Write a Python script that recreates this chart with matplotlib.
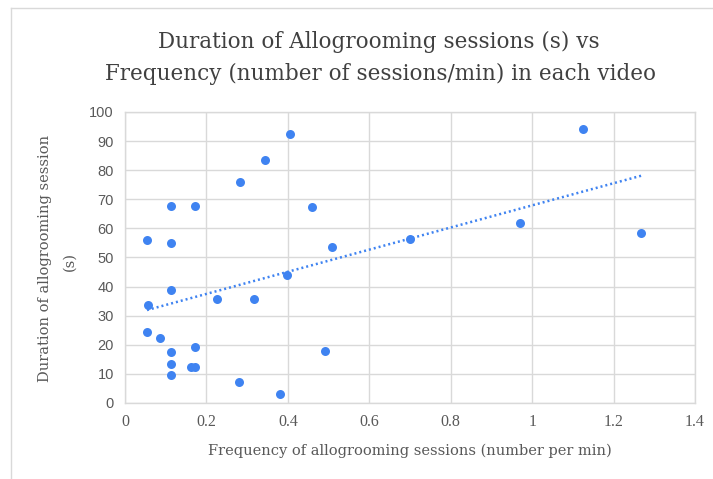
"""
Duration of allogrooming sessions vs frequency of sessions per video.
"""

import numpy as np
import matplotlib
matplotlib.use("Agg")
import matplotlib.pyplot as plt
from matplotlib.lines import Line2D

# frecuencia (sesiones/min) y duración (s) de cada video
frecuencia = [0.405, 0.344, 0.283, 0.112, 0.171, 0.460, 0.054, 0.112, 0.112, 0.397,
              0.057, 0.225, 0.318, 0.054, 0.086, 0.112, 0.171, 0.112, 0.163, 0.171,
              0.112, 0.280, 0.380, 0.509, 0.492, 0.700, 0.970, 1.125, 1.268]
duracion = [92.3, 83.5, 76.1, 67.7, 67.7, 67.4, 55.9, 54.9, 38.7, 43.9,
            33.6, 35.9, 35.9, 24.5, 22.2, 17.6, 19.4, 13.3, 12.4, 12.4,
            9.5, 7.2, 3.2, 53.6, 17.9, 56.4, 61.8, 94.1, 58.5]

x_ticks = [0, 0.2, 0.4, 0.6, 0.8, 1, 1.2, 1.4]
x_labels = ["0", "0.2", "0.4", "0.6", "0.8", "1", "1.2", "1.4"]
y_ticks = list(range(0, 101, 10))

azul = "#3f83f1"
gris_txt = "#595959"
gris_grid = "#d9d9d9"
serif = ["DejaVu Serif"]
serif_tick = ["Liberation Serif", "DejaVu Serif"]
sans = ["Liberation Sans", "DejaVu Sans"]

fig = plt.figure(figsize=(7.13, 4.79), dpi=100)
ax = fig.add_axes([0.1753, 0.1587, 0.7995, 0.6075])

ax.scatter(frecuencia, duracion, s=42, color=azul, zorder=3, linewidths=0)

# línea de tendencia lineal
m, b = np.polyfit(frecuencia, duracion, 1)
xt = np.array([min(frecuencia), max(frecuencia)])
ax.plot(xt, m * xt + b, color=azul, linewidth=1.8, linestyle=(0, (0.8, 1.2)), zorder=2)

ax.set_xlim(0, 1.4)
ax.set_ylim(0, 100)
ax.set_xticks(x_ticks)
ax.set_xticklabels(x_labels, fontfamily=serif_tick, fontsize=11.5, color=gris_txt)
ax.set_yticks(y_ticks)
ax.set_yticklabels([str(v) for v in y_ticks], fontfamily=sans, fontsize=10.5, color=gris_txt)
ax.tick_params(length=0, pad=8)
ax.grid(True, color=gris_grid, linewidth=1)
ax.set_axisbelow(True)
for s in ax.spines.values():
    s.set_color(gris_grid)
    s.set_linewidth(1)

fig.text(0.531, 0.912, "Duration of Allogrooming sessions (s) vs", ha="center", va="center",
         fontfamily=serif, fontsize=15.5, color="#404040")
fig.text(0.533, 0.845, "Frequency (number of sessions/min) in each video", ha="center", va="center",
         fontfamily=serif, fontsize=15.5, color="#404040")

fig.text(0.575, 0.058, "Frequency of allogrooming sessions (number per min)", ha="center", va="center",
         fontfamily=serif, fontsize=10.5, color=gris_txt)
fig.text(0.063, 0.461, "Duration of allogrooming session", ha="center", va="center", rotation=90,
         fontfamily=serif, fontsize=10.5, color=gris_txt)
fig.text(0.098, 0.455, "(s)", ha="center", va="center", rotation=90,
         fontfamily=serif, fontsize=10.5, color=gris_txt)

# borde del gráfico
fig.add_artist(Line2D([11 / 713, 11 / 713], [0, 1 - 8 / 479], transform=fig.transFigure,
                      color="#d9d9d9", linewidth=1))
fig.add_artist(Line2D([11 / 713, 1], [1 - 8 / 479, 1 - 8 / 479], transform=fig.transFigure,
                      color="#d9d9d9", linewidth=1))

plt.savefig("out.png", dpi=100)
